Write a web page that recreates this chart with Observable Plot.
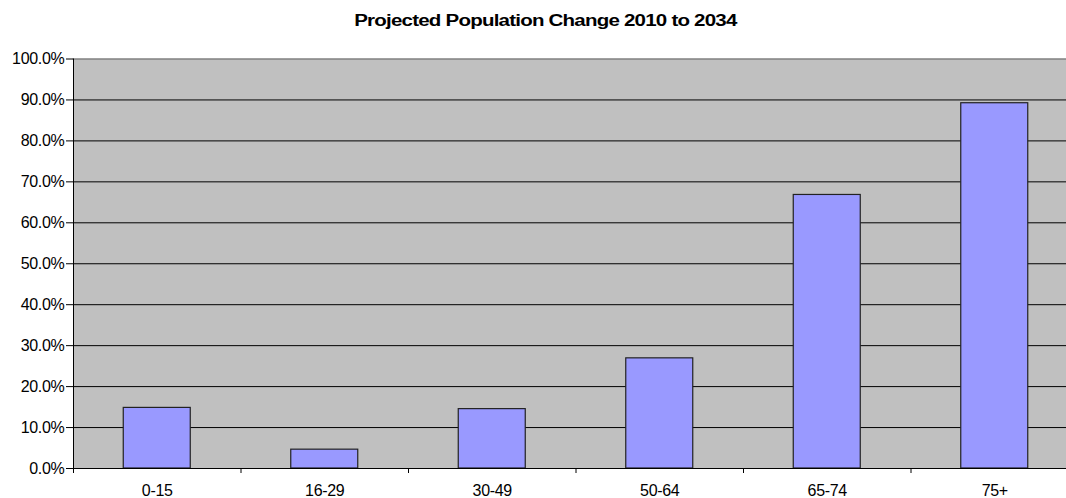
<!DOCTYPE html>
<html>
<head>
<meta charset="utf-8">
<script src="https://cdn.jsdelivr.net/npm/d3@7"></script>
<script src="https://cdn.jsdelivr.net/npm/@observablehq/plot@0.6"></script>
<style>
  html, body { margin: 0; padding: 0; background: #fff; overflow: hidden; }
  #wrap { width: 1066px; height: 498px; overflow: hidden; position: relative; }
  #title {
    height: 40px; line-height: 42px; text-align: center;
    width: 1066px; padding-left: 24px; box-sizing: border-box;
  }
  #title span {
    display: inline-block;
    font: bold 16px "Liberation Sans", Arial, sans-serif;
    letter-spacing: -0.6px; color: #000;
    transform: scaleX(1.28);
  }
  #chart { width: 1078px; }
  #chart svg { display: block; max-width: none !important; height: 458px !important; }
</style>
</head>
<body>
<div id="wrap">
  <div id="title"><span>Projected Population Change 2010 to 2034</span></div>
  <div id="chart"></div>
</div>
<script>
// Age groups and projected change in population, 2010 to 2034
const ageGroups = ["0-15", "16-29", "30-49", "50-64", "65-74", "75+"];
const change = [0.148, 0.046, 0.145, 0.269, 0.668, 0.892];
const yTicks = [0, 0.1, 0.2, 0.3, 0.4, 0.5, 0.6, 0.7, 0.8, 0.9, 1.0];

const rows = ageGroups.map((group, i) => ({group, i, value: change[i]}));
const gap = 0.3; // share of each category slot left empty on either side of a bar

const chart = Plot.plot({
  width: 1078,
  height: 458,
  marginLeft: 73,
  marginRight: 0,
  marginTop: 18.5,
  marginBottom: 30,
  style: {fontFamily: "'Liberation Sans', Arial, sans-serif", fontSize: "16px", color: "#000", letterSpacing: "-0.3px"},
  x: {type: "linear", domain: [0, ageGroups.length]},
  y: {domain: [0, 1]},
  marks: [
    Plot.frame({fill: "#c0c0c0", stroke: null}),
    Plot.ruleY(yTicks.slice(1, -1), {stroke: "#000", strokeWidth: 1}),
    Plot.frame({anchor: "top", stroke: "#808080", strokeWidth: 1.5}),
    Plot.rectY(rows, {
      x1: d => d.i + gap,
      x2: d => d.i + 1 - gap,
      y1: 0,
      y2: "value",
      fill: "#9999ff",
      stroke: "#222",
      strokeWidth: 1.2
    }),
    Plot.frame({anchor: "left", stroke: "#000"}),
    Plot.ruleY([0], {stroke: "#000"}),
    Plot.axisY({
      ticks: yTicks,
      tickFormat: d3.format(".1%"),
      tickSize: 7,
      tickPadding: 2,
      label: null
    }),
    // category boundary tick marks
    Plot.axisX({
      ticks: d3.range(0, ageGroups.length + 1),
      tickSize: 5,
      tickFormat: () => "",
      label: null
    }),
    // category names centred in each slot
    Plot.axisX({
      ticks: d3.range(ageGroups.length).map(i => i + 0.5),
      tickSize: 0,
      tickPadding: 16,
      tickFormat: v => ageGroups[Math.floor(v)],
      label: null
    })
  ]
});

document.getElementById("chart").appendChild(chart);
</script>
</body>
</html>
